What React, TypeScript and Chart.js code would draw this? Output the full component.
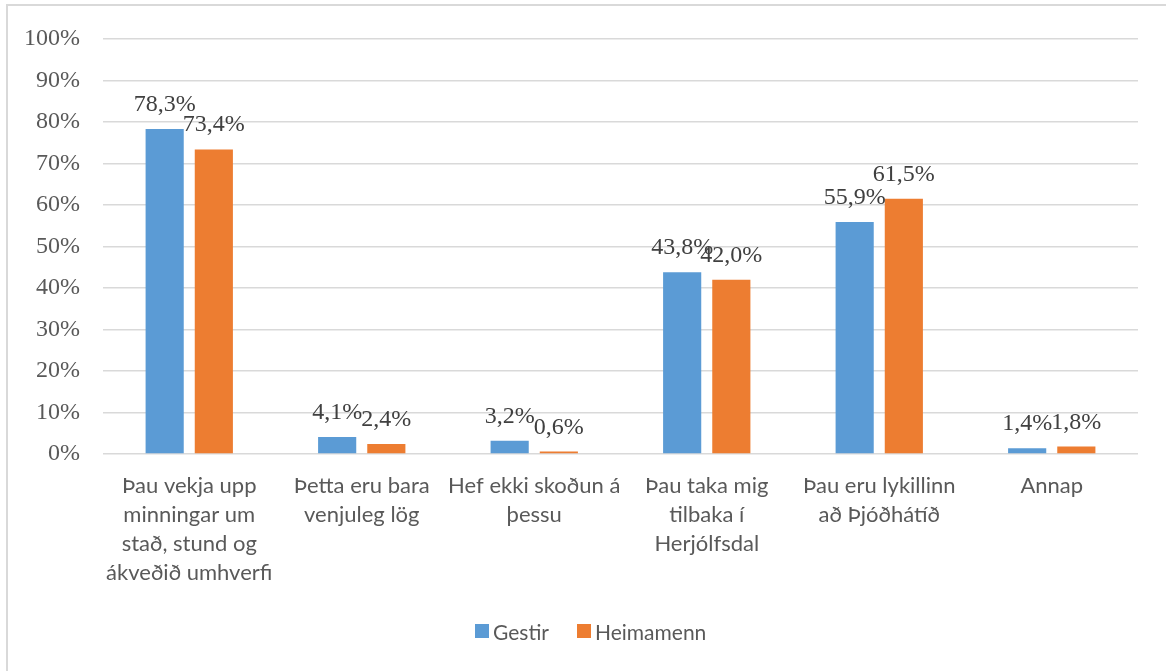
import React, { useEffect, useRef } from "react";
import { Chart, registerables } from "chart.js";

Chart.register(...registerables);

const categories: string[][] = [
  ["Þau vekja upp", "minningar um", "stað, stund og", "ákveðið umhverfi"],
  ["Þetta eru bara", "venjuleg lög"],
  ["Hef ekki skoðun á", "þessu"],
  ["Þau taka mig", "tilbaka í", "Herjólfsdal"],
  ["Þau eru lykillinn", "að Þjóðhátíð"],
  ["Annap"],
];

const seriesNames: string[] = ["Gestir", "Heimamenn"];
const seriesColors: string[] = ["#5B9BD5", "#ED7D31"];
const gestir: number[] = [78.3, 4.1, 3.2, 43.8, 55.9, 1.4];
const heimamenn: number[] = [73.4, 2.4, 0.6, 42.0, 61.5, 1.8];

const yTicks: number[] = [0, 10, 20, 30, 40, 50, 60, 70, 80, 90, 100];

const SANS = "Lato";
const SERIF = "'Liberation Serif', 'Times New Roman', serif";

const fmt = (v: number) => v.toFixed(1).replace(".", ",") + "%";

const labelPlugin = {
  id: "barLabels",
  afterDatasetsDraw(chart: any) {
    const ctx = chart.ctx;
    ctx.save();
    ctx.font = `24px ${SERIF}`;
    ctx.fillStyle = "#404040";
    ctx.textAlign = "center";
    ctx.textBaseline = "alphabetic";
    chart.data.datasets.forEach((ds: any, di: number) => {
      const meta = chart.getDatasetMeta(di);
      meta.data.forEach((bar: any, i: number) => {
        ctx.fillText(fmt(ds.data[i]), bar.x, bar.y - 18);
      });
    });
    ctx.restore();
  },
};

export default function App() {
  const ref = useRef<HTMLCanvasElement | null>(null);

  useEffect(() => {
    if (!ref.current) return;
    const chart = new Chart(ref.current, {
      type: "bar",
      data: {
        labels: categories,
        datasets: [gestir, heimamenn].map((d, i) => ({
          label: seriesNames[i],
          data: d,
          backgroundColor: seriesColors[i],
          categoryPercentage: 0.57,
          barPercentage: 0.776,
        })),
      },
      options: {
        animation: false,
        responsive: false,
        devicePixelRatio: 1,
        layout: { padding: { top: 39, right: 28, left: 0, bottom: 69 } },
        plugins: {
          tooltip: { enabled: false },
          legend: { display: false },
        },
        scales: {
          x: {
            grid: { display: false, drawTicks: false },
            border: { display: false },
            ticks: {
              color: "#595959",
              font: { family: SANS, size: 22, lineHeight: 1.32 },
              padding: 17,
              maxRotation: 0,
              autoSkip: false,
            },
            afterFit(scale: any) {
              scale.height = 148;
            },
          },
          y: {
            min: 0,
            max: 100,
            afterBuildTicks(scale: any) {
              scale.ticks = yTicks.map((v) => ({ value: v }));
            },
            grid: { color: "#d9d9d9", lineWidth: 1.5, drawTicks: false },
            border: { display: false },
            ticks: {
              color: "#595959",
              font: { family: SERIF, size: 24 },
              padding: 23,
              callback: (v: any) => v + "%",
            },
            afterFit(scale: any) {
              scale.width = 103;
            },
          },
        },
      },
      plugins: [labelPlugin],
    });
    return () => chart.destroy();
  }, []);

  return (
    <div
      style={{
        position: "fixed",
        left: 0,
        top: 0,
        width: 1166,
        height: 671,
        background: "#fff",
        overflow: "hidden",
      }}
    >
      <div
        style={{
          position: "absolute",
          left: 6,
          top: 4,
          width: 1300,
          height: 800,
          borderTop: "2px solid #d9d9d9",
          borderLeft: "2px solid #d9d9d9",
        }}
      />
      <canvas
        ref={ref}
        width={1166}
        height={671}
        style={{ position: "absolute", left: 0, top: 0, width: 1166, height: 671 }}
      />
      <div
        style={{
          position: "absolute",
          left: 475,
          top: 617,
          height: 28,
          display: "flex",
          alignItems: "center",
          fontFamily: SANS,
          fontSize: 21,
          color: "#595959",
          whiteSpace: "nowrap",
        }}
      >
        {seriesNames.map((name, i) => (
          <div
            key={name}
            style={{ display: "flex", alignItems: "center", marginLeft: i === 0 ? 0 : 28 }}
          >
            <span
              style={{
                display: "inline-block",
                width: 14,
                height: 14,
                background: seriesColors[i],
                marginRight: 4,
              }}
            />
            <span>{name}</span>
          </div>
        ))}
      </div>
    </div>
  );
}
